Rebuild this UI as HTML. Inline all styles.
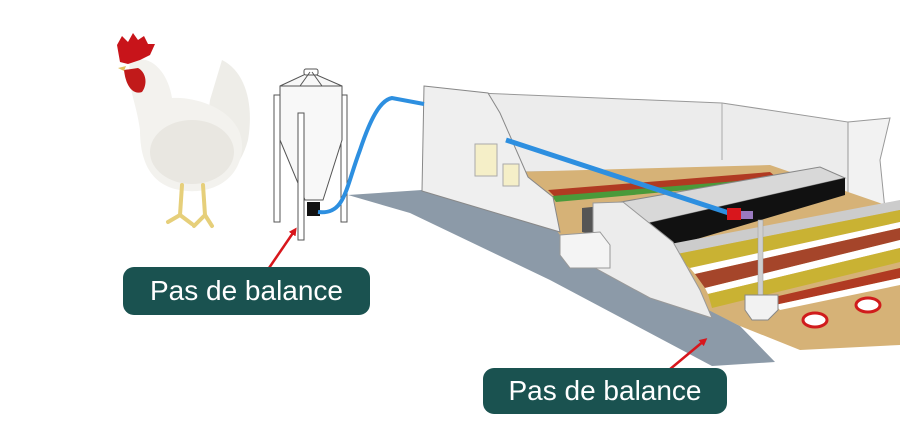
<!DOCTYPE html>
<html><head><meta charset="utf-8"><style>
html,body{margin:0;padding:0;background:#fff;width:900px;height:447px;overflow:hidden}
</style></head><body>
<svg width="900" height="447" viewBox="0 0 900 447" xmlns="http://www.w3.org/2000/svg">
<defs>
<marker id="ah" markerWidth="8" markerHeight="8" refX="5" refY="4" orient="auto" markerUnits="userSpaceOnUse"><path d="M0,0 L8,4 L0,8 z" fill="#d8161c"/></marker>
</defs>
<!-- chicken -->
<g>
<path d="M222,60 C246,72 254,105 248,140 C240,170 222,182 200,182 L210,100 Z" fill="#eeede8"/>
<path d="M130,62 C150,52 168,72 172,98 C195,96 245,110 242,150 C238,185 205,195 180,190 C150,185 140,160 140,130 C136,100 126,85 130,62 Z" fill="#f3f2ee"/>
<ellipse cx="192" cy="152" rx="42" ry="32" fill="#e9e7e1"/>
<path d="M117,45 L122,36 L128,42 L133,33 L138,40 L144,36 L148,44 L155,44 L150,55 L140,60 L128,64 L120,62 Z" fill="#c8141a"/>
<path d="M124,70 C126,88 134,95 142,92 C148,84 146,72 138,68 Z" fill="#c11a1a"/>
<path d="M118,68 L126,66 L124,71 Z" fill="#e2c060"/>
<g stroke="#e6cf7a" stroke-width="4" fill="none" stroke-linecap="round">
<path d="M182,185 L180,215 L168,222"/><path d="M180,215 L192,224"/>
<path d="M203,185 L205,215 L194,226"/><path d="M205,215 L212,226"/>
</g>
</g>
<!-- silo -->
<g stroke="#555" stroke-width="1" fill="#fff">
<rect x="274" y="95" width="6" height="127"/>
<rect x="341" y="95" width="6" height="127"/>
<path d="M280,86 L310,72 L342,86 L342,140 L323,200 L305,200 L280,140 Z" fill="#f8f8f8"/>
<rect x="304" y="69" width="14" height="6" rx="2"/>
<line x1="280" y1="86" x2="342" y2="86"/>
<line x1="300" y1="86" x2="310" y2="72" /><line x1="322" y1="86" x2="312" y2="72"/>
<rect x="298" y="113" width="6" height="127"/>
</g>
<rect x="307" y="202" width="13" height="14" fill="#111"/>
<!-- floor -->
<polygon points="348,195 422,190 560,232 740,326 775,362 712,366 550,280 410,213" fill="#8c9aa8"/>
<!-- back wall & right wall -->
<polygon points="478,93 722,103 848,122 848,210 770,170 513,172" fill="#ececec" stroke="#999" stroke-width="1"/>
<polygon points="848,122 890,118 880,160 885,210 848,210" fill="#f2f2f2" stroke="#999" stroke-width="1"/>
<line x1="722" y1="103" x2="722" y2="160" stroke="#aaa"/>
<!-- interior floor -->
<polygon points="513,172 770,165 900,210 900,345 800,350 740,326 560,235" fill="#d6b277"/>
<!-- row stripes far -->
<polygon points="548,190 770,172 780,180 556,198" fill="#b03a22"/>
<polygon points="552,196 775,178 775,182 556,202" fill="#4a9a3a"/>
<!-- middle roof -->
<polygon points="615,203 820,167 845,178 640,225" fill="#d8d8d8" stroke="#888"/>
<polygon points="640,225 845,178 845,195 660,250" fill="#111"/>
<polygon points="582,208 612,205 612,240 582,232" fill="#555"/>
<!-- cage rows -->
<g>
<polygon points="665,245 900,200 900,210 672,255" fill="#ccc"/>
<polygon points="672,255 900,210 900,222 690,268" fill="#c9b233"/>
<polygon points="690,268 900,222 900,228 695,274" fill="#fff"/>
<polygon points="695,274 900,228 900,240 705,288" fill="#a5452a"/>
<polygon points="705,288 900,240 900,248 708,294" fill="#fff"/>
<polygon points="708,294 900,248 900,262 712,308" fill="#c9b233"/>
<polygon points="770,298 900,268 900,278 775,305" fill="#b03a22"/>
<polygon points="775,305 900,278 900,285 780,310" fill="#fff"/>
</g>
<ellipse cx="815" cy="320" rx="12" ry="7" fill="#fff" stroke="#d01c1c" stroke-width="3"/>
<ellipse cx="868" cy="305" rx="12" ry="7" fill="#fff" stroke="#d01c1c" stroke-width="3"/>
<!-- front middle wall -->
<polygon points="593,203 623,202 673,242 700,290 712,318 650,298 593,267" fill="#ececec" stroke="#999"/>
<!-- front-left wall -->
<polygon points="424,86 488,93 500,113 528,177 553,197 560,232 422,191" fill="#efefef" stroke="#888"/>
<rect x="475" y="144" width="22" height="32" fill="#f5efc8" stroke="#aaa"/>
<rect x="503" y="164" width="16" height="22" fill="#f5efc8" stroke="#aaa"/>
<!-- box -->
<polygon points="560,235 600,232 610,245 610,268 570,268 560,255" fill="#f4f4f4" stroke="#999"/>
<!-- feed unit -->
<rect x="758" y="220" width="5" height="75" fill="#cfcfcf" stroke="#999" stroke-width=".5"/>
<polygon points="745,295 778,295 778,310 768,320 752,320 745,310" fill="#f2f2f2" stroke="#888"/>
<!-- blue pipes -->
<path d="M318,212 C345,215 345,190 360,150 C370,120 380,100 392,98 L424,104" stroke="#2d8fe0" stroke-width="4" fill="none"/>
<line x1="506" y1="140" x2="735" y2="215" stroke="#2d8fe0" stroke-width="5"/>
<rect x="727" y="208" width="14" height="12" fill="#d8161c"/>
<rect x="741" y="211" width="12" height="8" fill="#9a7ac0"/>
<!-- arrows -->
<line x1="269" y1="268" x2="295" y2="230" stroke="#d8161c" stroke-width="2.5" marker-end="url(#ah)"/>
<line x1="669" y1="370" x2="705" y2="340" stroke="#d8161c" stroke-width="2.5" marker-end="url(#ah)"/>
<!-- labels -->
<rect x="123" y="267" width="247" height="48" rx="11" fill="#1a5250"/>
<text x="246.5" y="300" text-anchor="middle" font-family="Liberation Sans, sans-serif" font-size="28" fill="#fff">Pas de balance</text>
<rect x="483" y="368" width="244" height="46" rx="11" fill="#1a5250"/>
<text x="605" y="400" text-anchor="middle" font-family="Liberation Sans, sans-serif" font-size="28" fill="#fff">Pas de balance</text>
</svg>
</body></html>
